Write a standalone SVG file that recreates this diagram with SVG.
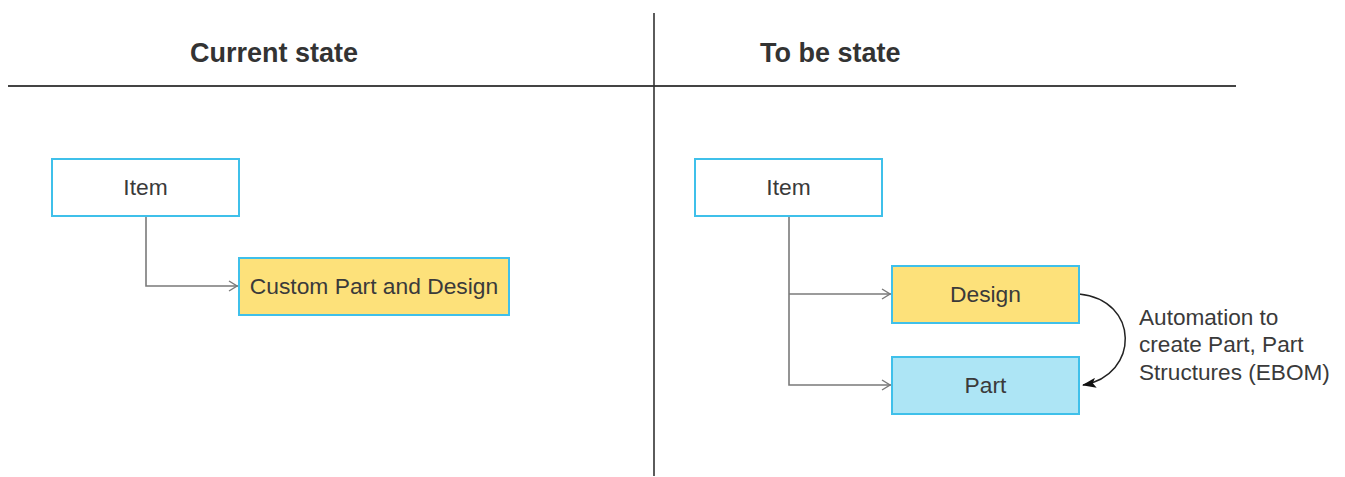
<svg xmlns="http://www.w3.org/2000/svg" width="1345" height="477" viewBox="0 0 1345 477">
<style>
.box{stroke:#3fc0ea;stroke-width:2}
.lbl{font-family:"Liberation Sans",Arial,sans-serif;font-size:22.8px;fill:#3a3a3a;text-anchor:middle}
.hdr{font-family:"Liberation Sans",Arial,sans-serif;font-size:27px;font-weight:bold;fill:#333}
.conn{fill:none;stroke:#7a7a7a;stroke-width:1.6}
.note{font-family:"Liberation Sans",Arial,sans-serif;font-size:22.6px;fill:#3a3a3a}
</style>
<defs>
<marker id="open" viewBox="0 0 10 12" refX="10" refY="6" markerWidth="10" markerHeight="12" markerUnits="userSpaceOnUse" orient="auto">
<path d="M1,1 L9,6 L1,11" fill="none" stroke="#7a7a7a" stroke-width="1.4"/>
</marker>
<marker id="solid" viewBox="0 0 14 10" refX="13" refY="5" markerWidth="14" markerHeight="10" markerUnits="userSpaceOnUse" orient="auto">
<path d="M0,0 L14,5 L0,10 L3,5 Z" fill="#111"/>
</marker>
</defs>
<rect width="1345" height="477" fill="#fff"/>
<g id="frame">
<line x1="8" y1="86" x2="1236" y2="86" stroke="#444" stroke-width="2"/>
<line x1="654" y1="13" x2="654" y2="476" stroke="#333" stroke-width="1.6"/>
<text class="hdr" x="190" y="62">Current state</text>
<text class="hdr" x="760" y="62">To be state</text>
</g>
<g id="connectors">
<path class="conn" d="M146,216 V286 H238" marker-end="url(#open)"/>
<path class="conn" d="M789,216 V385 H891" marker-end="url(#open)"/>
<path class="conn" d="M789,294 H891" marker-end="url(#open)"/>
<path d="M1079,294 C1140,300 1140,375 1083,385" fill="none" stroke="#222" stroke-width="1.5" marker-end="url(#solid)"/>
<text class="note" x="1139" y="325">Automation to</text>
<text class="note" x="1139" y="352">create Part, Part</text>
<text class="note" x="1139" y="380">Structures (EBOM)</text>
</g>
<g id="item-current">
<rect class="box" x="52" y="159" width="187" height="57" fill="#fff"/>
<text class="lbl" x="145.5" y="195">Item</text>
</g>
<g id="custom-part-design">
<rect class="box" x="239" y="258" width="270" height="57" fill="#fde17a"/>
<text class="lbl" x="374" y="294">Custom Part and Design</text>
</g>
<g id="item-tobe">
<rect class="box" x="695" y="159" width="187" height="57" fill="#fff"/>
<text class="lbl" x="788.5" y="195">Item</text>
</g>
<g id="design">
<rect class="box" x="892" y="266" width="187" height="57" fill="#fde17a"/>
<text class="lbl" x="985.5" y="302">Design</text>
</g>
<g id="part">
<rect class="box" x="892" y="357" width="187" height="57" fill="#ade5f5"/>
<text class="lbl" x="985.5" y="393">Part</text>
</g>
</svg>
